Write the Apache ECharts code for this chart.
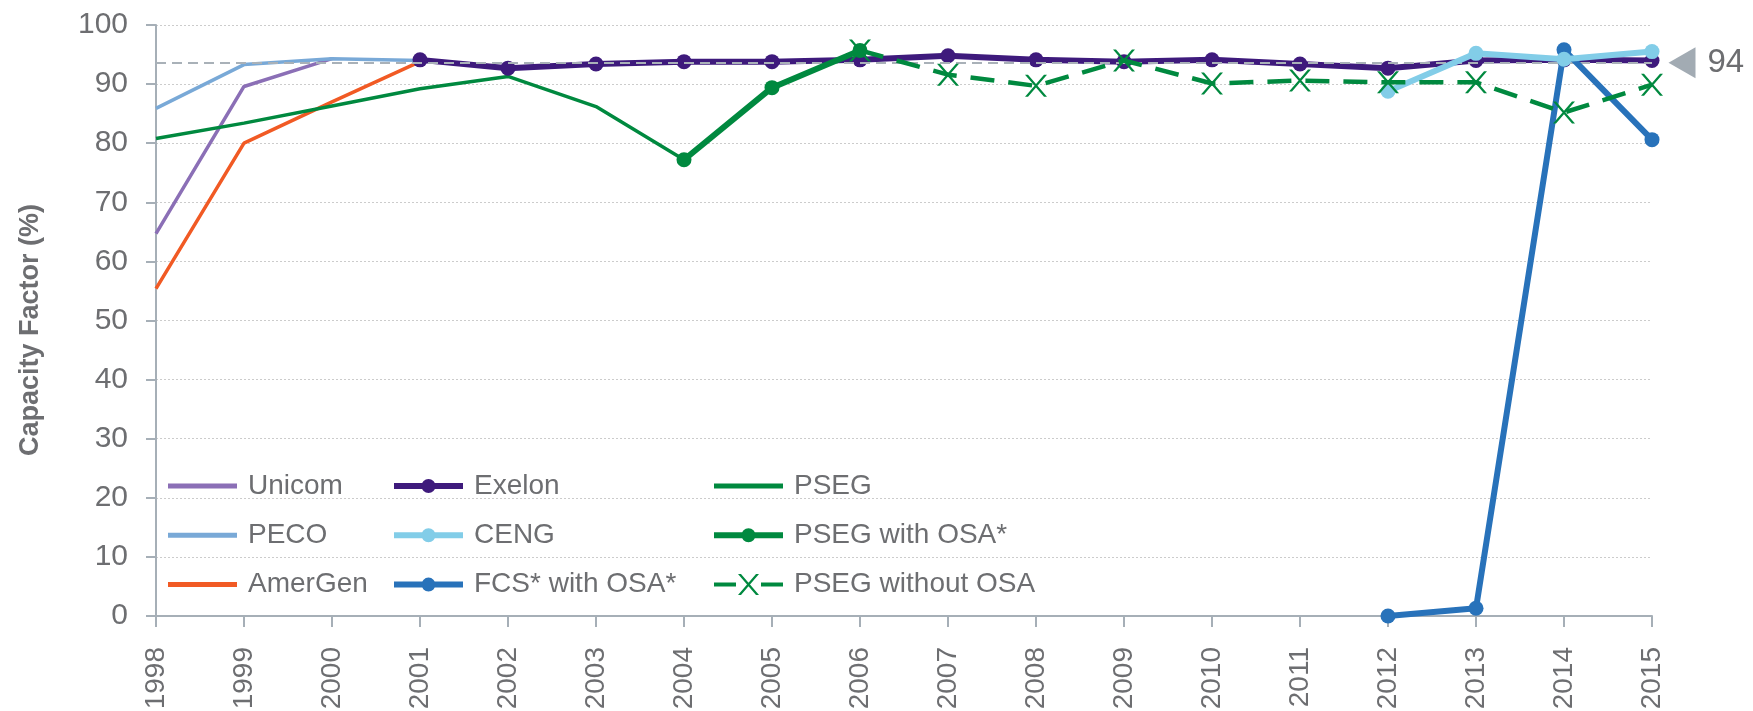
<!DOCTYPE html>
<html>
<head>
<meta charset="utf-8">
<script src="https://cdn.jsdelivr.net/npm/echarts@6/dist/echarts.min.js"></script>
<style>
html,body{margin:0;padding:0;background:#fff;}
#chart{width:1753px;height:711px;}
</style>
</head>
<body>
<div id="chart"></div>
<script>
const years = ['1998','1999','2000','2001','2002','2003','2004','2005','2006','2007','2008','2009','2010','2011','2012','2013','2014','2015'];
const yTicks = [0, 10, 20, 30, 40, 50, 60, 70, 80, 90, 100];

const unicom    = [64.7, 89.6, 94.3, null, null, null, null, null, null, null, null, null, null, null, null, null, null, null];
const peco      = [85.9, 93.3, 94.3, 94.0, null, null, null, null, null, null, null, null, null, null, null, null, null, null];
const amergen   = [55.4, 80.0, 87.0, 93.8, null, null, null, null, null, null, null, null, null, null, null, null, null, null];
const pseg      = [80.8, 83.4, 86.3, 89.2, 91.3, 86.2, 77.2, null, null, null, null, null, null, null, null, null, null, null];
const exelon    = [null, null, null, 94.1, 92.7, 93.4, 93.8, 93.8, 94.1, 94.8, 94.1, 93.8, 94.1, 93.4, 92.7, 94.0, 94.1, 94.0];
const ceng      = [null, null, null, null, null, null, null, null, null, null, null, null, null, null, 88.8, 95.2, 94.2, 95.5];
const fcs       = [null, null, null, null, null, null, null, null, null, null, null, null, null, null, 0.0, 1.3, 95.8, 80.6];
const psegOsa   = [null, null, null, null, null, null, 77.2, 89.4, 95.7, null, null, null, null, null, null, null, null, null];
const psegNoOsa = [null, null, null, null, null, null, null, null, 95.7, 91.6, 89.7, 94.0, 90.1, 90.6, 90.3, 90.3, 85.2, 89.9];

const refValue = 93.6;
const refLabel = '94';

const names = {
  unicom: 'Unicom', peco: 'PECO', amergen: 'AmerGen',
  exelon: 'Exelon', ceng: 'CENG', fcs: 'FCS* with OSA*',
  pseg: 'PSEG', psegOsa: 'PSEG with OSA*', psegNoOsa: 'PSEG without OSA'
};

const C = {
  unicom: '#8b6fb6', peco: '#79a9d7', amergen: '#f15a24',
  exelon: '#3e1a7c', ceng: '#82cde8', fcs: '#2872ba', pseg: '#00893f'
};
const GRAY_TXT = '#6d6e71';
const AXIS = '#a6afb7';
const FONT = "'Liberation Sans', Arial, sans-serif";

const xSymbol = 'path://M0,0L3,0L22,22L19,22Z M19,0L22,0L3,22L0,22Z';
const iconPlain = 'path://M0,0H69V5H0Z';
const iconDot = 'path://M0,4H69V10H0Z M27.5,7A7,7 0 1,1 41.5,7A7,7 0 1,1 27.5,7Z';
const iconX = 'path://M0,8.5H22V12.5H0Z M47,8.5H69V12.5H47Z M24,0L27,0L45,21L42,21Z M42,0L45,0L27,21L24,21Z';

function thin(key, data) {
  return {
    name: names[key], type: 'line', data: data, symbol: 'none', showSymbol: false,
    lineStyle: { color: C[key], width: 3.5 }, itemStyle: { color: C[key] }, z: 2
  };
}
function thick(key, colorKey, data, z) {
  return {
    name: names[key], type: 'line', data: data, symbol: 'circle', symbolSize: 15,
    lineStyle: { color: C[colorKey], width: 6 }, itemStyle: { color: C[colorKey] }, z: z
  };
}

function legendCol(left, items) {
  return {
    orient: 'vertical', left: left, top: 472, padding: 0,
    itemWidth: 69, itemHeight: 22, itemGap: 21.3, selectedMode: false,
    textStyle: { fontSize: 28, color: GRAY_TXT, fontFamily: FONT, lineHeight: 22, padding: [0, 0, 0, 6] },
    data: items
  };
}

const option = {
  animation: false,
  backgroundColor: '#ffffff',
  grid: { left: 156, right: 101, top: 25, bottom: 95, containLabel: false, outerBoundsMode: 'none' },
  legend: [
    legendCol(168, [
      { name: names.unicom, icon: iconPlain },
      { name: names.peco, icon: iconPlain },
      { name: names.amergen, icon: iconPlain }
    ]),
    legendCol(394, [
      { name: names.exelon, icon: iconDot },
      { name: names.ceng, icon: iconDot },
      { name: names.fcs, icon: iconDot }
    ]),
    legendCol(714, [
      { name: names.pseg, icon: iconPlain },
      { name: names.psegOsa, icon: iconDot },
      { name: names.psegNoOsa, icon: iconX }
    ])
  ],
  xAxis: {
    type: 'category', data: years, boundaryGap: false,
    axisLine: { lineStyle: { color: AXIS, width: 2 } },
    axisTick: { show: true, length: 11, interval: 0, lineStyle: { color: AXIS, width: 2 } },
    axisLabel: { rotate: 90, interval: 0, fontSize: 28, color: GRAY_TXT, fontFamily: FONT, margin: 31 },
    splitLine: { show: false }
  },
  yAxis: {
    type: 'value', min: yTicks[0], max: yTicks[yTicks.length - 1], interval: 10,
    name: 'Capacity Factor (%)', nameLocation: 'middle', nameGap: 112,
    nameTextStyle: { fontSize: 27, fontWeight: 'bold', color: GRAY_TXT, fontFamily: FONT, padding: [0, 19, 0, 0] },
    axisLine: { show: true, lineStyle: { color: AXIS, width: 2 } },
    axisTick: { show: true, length: 10, lineStyle: { color: AXIS, width: 2 } },
    axisLabel: { fontSize: 30, color: GRAY_TXT, fontFamily: FONT, margin: 28 },
    splitLine: { show: true, lineStyle: { color: '#cccccc', width: 1, type: [2, 2] } }
  },
  series: [
    thin('unicom', unicom),
    thin('peco', peco),
    thin('amergen', amergen),
    thin('pseg', pseg),
    thick('exelon', 'exelon', exelon, 4),
    thick('fcs', 'fcs', fcs, 5),
    thick('ceng', 'ceng', ceng, 6),
    thick('psegOsa', 'pseg', psegOsa, 7),
    {
      name: names.psegNoOsa, type: 'line', data: psegNoOsa,
      symbol: xSymbol, symbolSize: 22,
      lineStyle: { color: C.pseg, width: 4.5, type: [24, 14] },
      itemStyle: { color: C.pseg }, z: 8
    },
    {
      name: 'ref', type: 'line', data: years.map(() => null), z: 9, silent: true,
      markLine: {
        silent: true, symbol: 'none', label: { show: false },
        lineStyle: { color: '#a9b1b8', width: 2, type: [10, 6] },
        data: [{ yAxis: refValue }]
      },
      markPoint: {
        silent: true,
        symbol: 'path://M0,15.5L27,0L27,31Z', symbolSize: [27, 31], symbolOffset: [30, 0],
        itemStyle: { color: '#a2abb3' },
        label: { show: true, position: 'right', distance: 12, formatter: refLabel, fontSize: 33, color: GRAY_TXT, fontFamily: FONT },
        data: [{ coord: [years[years.length - 1], refValue] }]
      }
    }
  ]
};

const chart = echarts.init(document.getElementById('chart'), null, { renderer: 'canvas' });
chart.setOption(option);
</script>
</body>
</html>
